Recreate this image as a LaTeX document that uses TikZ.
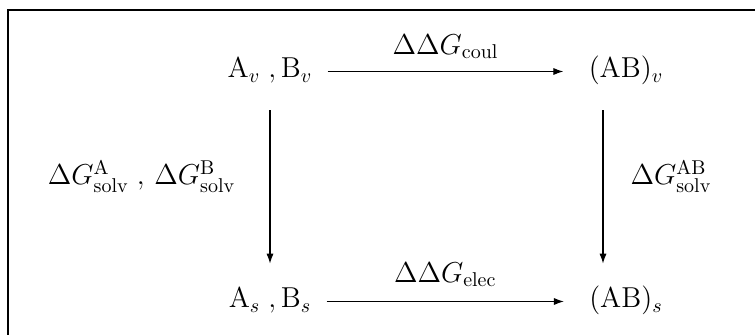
\documentclass[tikz,border=0pt]{standalone}
\usetikzlibrary{arrows.meta}
\begin{document}
\begin{tikzpicture}[x=0.5pt,y=-0.5pt,
  every node/.style={font=\Large},
  term/.style={text height=10pt,text depth=3.5pt,inner sep=4.8pt},
  conn/.style={-{Latex[length=5pt,width=3.6pt]},line width=0.6pt},
  outerframe/.style={line width=0.75pt},
  lbl/.style={inner sep=0pt}]
\useasboundingbox (0,0) rectangle (755,335);
\clip (0,0) rectangle (755,335);
\draw[outerframe] (8,10) rectangle (780,360);
\node[term] (av) at (270,71.5) {$\mathrm{A}_v\;,\mathrm{B}_v$};
\node[term] (abv) at (626,71.5) {$(\mathrm{AB})_v$};
\node[term] (as) at (270,301.5) {$\mathrm{A}_s\;,\mathrm{B}_s$};
\node[term] (abs) at (626,301.5) {$(\mathrm{AB})_s$};
\draw[conn, shorten <=2.7pt, shorten >=7.7pt] (av.east) -- node[lbl, above=6pt, xshift=-2.5pt] {$\Delta\Delta G_{\mathrm{coul}}$} (abv.west);
\draw[conn, shorten <=2.7pt, shorten >=7.7pt] (as.east) -- node[lbl, above=7pt, xshift=-2.5pt] {$\Delta\Delta G_{\mathrm{elec}}$} (abs.west);
\draw[conn, shorten <=7.7pt, shorten >=7.2pt] (av.south) -- node[lbl, left=17pt, yshift=5pt] {$\Delta G^{\mathrm{A}}_{\mathrm{solv}}\;,\,\Delta G^{\mathrm{B}}_{\mathrm{solv}}$} (as.north);
\draw[conn, shorten <=7.7pt, shorten >=7.2pt] ([xshift=-11.5pt]abv.south) -- node[lbl, right=13.5pt, yshift=5pt] {$\Delta G^{\mathrm{AB}}_{\mathrm{solv}}$} ([xshift=-11.5pt]abs.north);
\end{tikzpicture}
\end{document}
